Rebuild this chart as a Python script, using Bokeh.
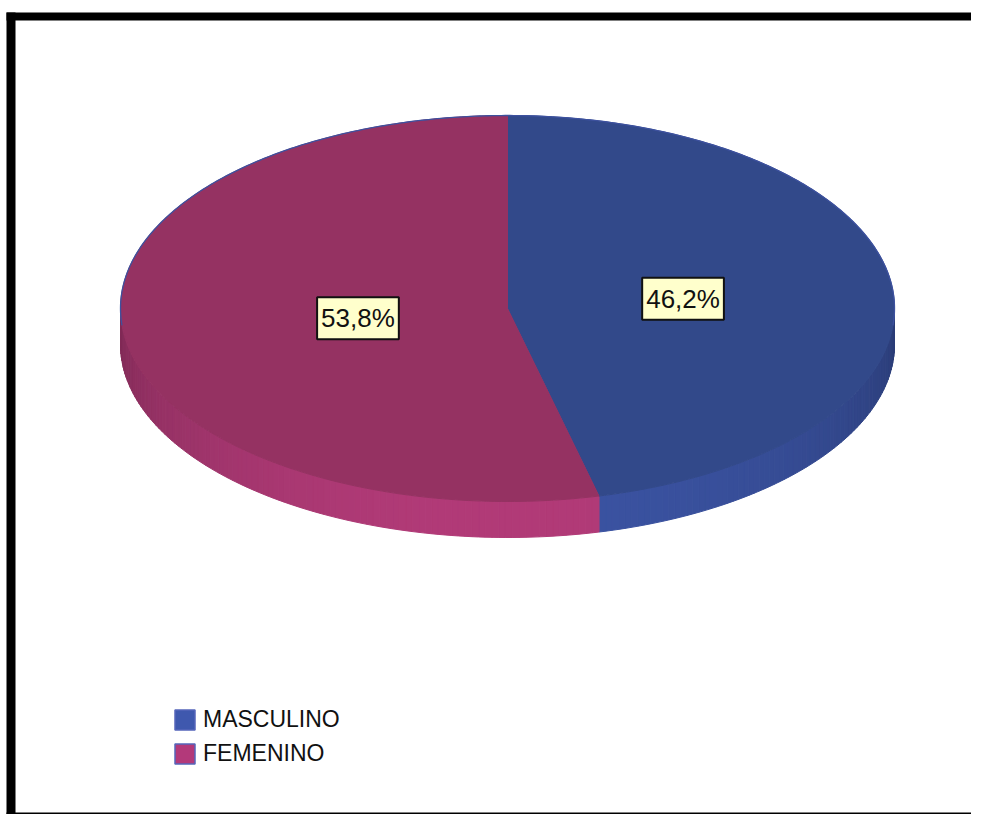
import numpy as np
from bokeh.plotting import figure
from bokeh.models import Range1d, Label, Legend, LegendItem
from bokeh.embed import file_html
from bokeh.resources import INLINE

# ---- data ----
categories = ["MASCULINO", "FEMENINO"]
percentages = [46.2, 53.8]
pct_labels = ["46,2%", "53,8%"]
top_colors = ["#32498A", "#953262"]
side_rgb = [(59, 83, 162), (178, 59, 120)]
legend_colors = ["#3F58AE", "#B3397A"]

# ---- layout constants ----
W, H = 971, 814
CX, CY = 507, 308          # ellipse centre (px)
A, B = 387, 193            # semi axes
DEPTH = 36                 # 3D thickness
LABEL_R = 0.423
LABEL_DX = 13

p = figure(width=W, height=H, output_backend="svg", toolbar_location=None,
           x_range=Range1d(0, W), y_range=Range1d(H, 0), min_border=0,
           x_axis_location=None, y_axis_location=None)
p.grid.visible = False
p.outline_line_color = None
p.background_fill_color = "white"
p.border_fill_color = "white"


def pt(theta_deg, dy=0.0):
    t = np.radians(theta_deg)
    return CX + A * np.cos(t), CY - B * np.sin(t) + dy


# slice angle ranges (degrees, clockwise from 12 o'clock)
total = sum(percentages)
cum = np.concatenate([[0], np.cumsum(percentages)]) / total * 360.0
starts = 90 - cum[:-1]
ends = 90 - cum[1:]

# ---- side walls (front half only) ----
for i in range(len(categories)):
    t_hi, t_lo = starts[i], ends[i]
    n = max(2, int(np.ceil((t_hi - t_lo) / 1.0)))
    edges = np.linspace(t_hi, t_lo, n + 1)
    xs_list, ys_list, cols = [], [], []
    for k in range(n):
        t0, t1 = edges[k], edges[k + 1]
        mid = 0.5 * (t0 + t1)
        s = np.sin(np.radians(mid))
        if s >= 0:
            continue
        x0, y0 = pt(t0)
        x1, y1 = pt(t1)
        xs_list.append([x0, x1, x1, x0])
        ys_list.append([y0, y1, y1 + DEPTH, y0 + DEPTH])
        f = 0.72 + 0.28 * (-s)
        r, g, b = side_rgb[i]
        cols.append("#%02x%02x%02x" % (int(r * f), int(g * f), int(b * f)))
    if xs_list:
        p.patches(xs_list, ys_list, fill_color=cols, line_color=cols, line_width=1)

# ---- top faces ----
for i in range(len(categories)):
    th = np.linspace(starts[i], ends[i], 200)
    xx, yy = pt(th)
    xs = np.concatenate([[CX], xx])
    ys = np.concatenate([[CY], yy])
    p.patch(xs, ys, fill_color=top_colors[i], line_color=top_colors[i], line_width=1)

# thin outline on the back rim
th = np.linspace(-5, 185, 300)
bx, by = pt(th)
p.line(bx, by, line_color="#3D519E", line_width=1.3)

# ---- percentage labels ----
for i in range(len(categories)):
    mid = 0.5 * (starts[i] + ends[i])
    lx, ly = pt(mid)
    lx = CX + (lx - CX) * LABEL_R + LABEL_DX
    ly = CY + (ly - CY) * LABEL_R
    p.add_layout(Label(x=lx, y=ly, text=pct_labels[i], text_align="center",
                       text_baseline="middle", text_font="Liberation Sans",
                       text_font_size="26px", text_color="#111111",
                       background_fill_color="#FFFFCC", border_line_color="#111111",
                       border_line_width=2, padding=dict(left=4, right=4, top=6, bottom=6)))

# ---- frame border ----
p.quad(left=[6, 6, 6], right=[15, W, W], top=[12, 12, H - 2], bottom=[H, 20, H],
       fill_color="black", line_color=None)

# ---- legend ----
items = []
for i, cat in enumerate(categories):
    r = p.quad(left=[np.nan], right=[np.nan], top=[np.nan], bottom=[np.nan],
               fill_color=legend_colors[i], line_color="#5566BB", line_width=1.5)
    items.append(LegendItem(label=cat, renderers=[r]))
legend = Legend(items=items, location=(172, 47), glyph_width=25, glyph_height=25,
                spacing=7, padding=0, margin=0, label_standoff=6, label_height=25,
                label_text_font="Liberation Sans", label_text_font_size="23px",
                label_text_color="#111111", border_line_color=None,
                background_fill_alpha=0)
p.add_layout(legend, "center")

open("out.html", "w").write(file_html(p, INLINE))
